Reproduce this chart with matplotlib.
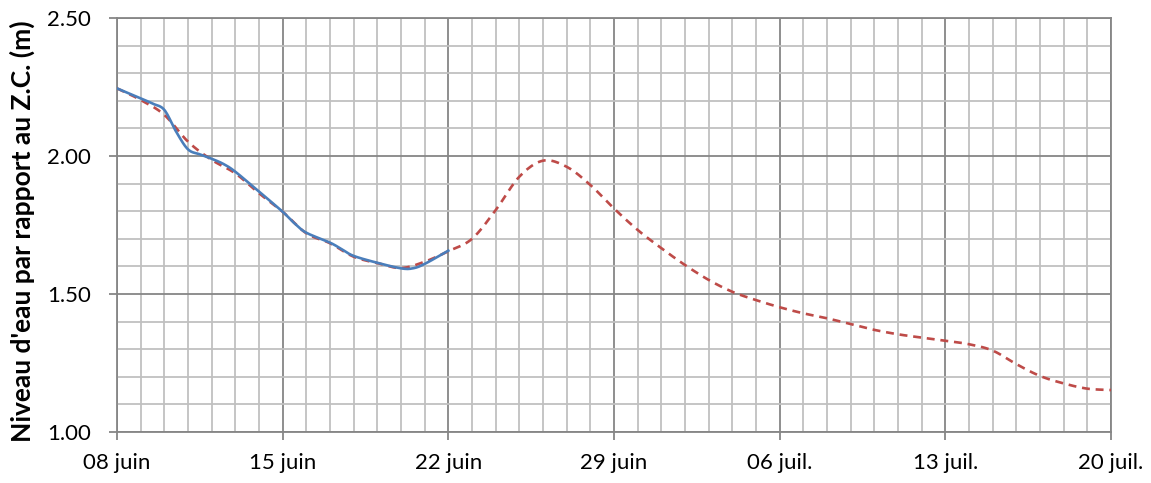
#!/usr/bin/env python3

import numpy as np
import matplotlib
matplotlib.use("Agg")
import matplotlib.pyplot as plt
import matplotlib.dates as mdates
from matplotlib.ticker import MultipleLocator, FormatStrFormatter

#################################################
### Data
#################################################

start_date = np.datetime64("2015-06-08")

# prevision (red dashed), one value per day from 08 juin to 20 juil.
prevision_days = np.arange(0, 43)
prevision_level = [2.245, 2.203, 2.149, 2.052, 1.986, 1.937, 1.865, 1.798, 1.720, 1.684,
                   1.635, 1.612, 1.594, 1.617, 1.655, 1.700, 1.804, 1.925, 1.983, 1.961,
                   1.895, 1.810, 1.732, 1.666, 1.605, 1.551, 1.508, 1.478, 1.452, 1.430,
                   1.412, 1.391, 1.370, 1.354, 1.342, 1.331, 1.318, 1.295, 1.246, 1.203,
                   1.176, 1.157, 1.152]

# observed (blue solid)
observed_days = [0, 1, 1.5, 2, 2.5, 3, 3.5, 4, 4.5, 5, 6, 7, 7.5, 8, 9, 9.5, 10, 11, 12, 12.5, 13, 14]
observed_level = [2.245, 2.209, 2.190, 2.167, 2.088, 2.024, 2.006, 1.990, 1.971, 1.943,
                  1.871, 1.798, 1.756, 1.722, 1.686, 1.662, 1.638, 1.613, 1.593, 1.593,
                  1.609, 1.657]

tick_days = [0, 7, 14, 21, 28, 35, 42]
tick_labels = ["08 juin", "15 juin", "22 juin", "29 juin", "06 juil.", "13 juil.", "20 juil."]

#################################################
### Functions Definitions
#################################################

def smooth(x, y, n=12):
    """Catmull-Rom curve through the points, like Excel's smoothed line."""
    x = np.asarray(x, float)
    y = np.asarray(y, float)
    px = np.concatenate(([2 * x[0] - x[1]], x, [2 * x[-1] - x[-2]]))
    py = np.concatenate(([2 * y[0] - y[1]], y, [2 * y[-1] - y[-2]]))
    xs, ys = [], []
    t = np.linspace(0, 1, n, endpoint=False)
    for i in range(1, len(px) - 2):
        for p, out in ((px, xs), (py, ys)):
            p0, p1, p2, p3 = p[i - 1], p[i], p[i + 1], p[i + 2]
            out.extend(0.5 * ((2 * p1) + (-p0 + p2) * t
                              + (2 * p0 - 5 * p1 + 4 * p2 - p3) * t ** 2
                              + (-p0 + 3 * p1 - 3 * p2 + p3) * t ** 3))
    xs.append(x[-1])
    ys.append(y[-1])
    return np.array(xs), np.array(ys)


def to_num(days):
    base = mdates.date2num(start_date.astype("datetime64[D]").astype(object))
    return base + np.asarray(days, float)

#################################################
### Plotting
#################################################

plt.rcParams['font.family'] = ['Lato', 'DejaVu Sans']

fig = plt.figure(figsize=(11.51, 4.83), dpi=100)
ax = fig.add_axes([117 / 1151, 1 - 432 / 483, (1111 - 117) / 1151, (432 - 18) / 483])

major_c = "#868686"
minor_c = "#c0c0c0"

xr, yr = smooth(prevision_days, prevision_level)
ax.plot(to_num(xr), yr, color="#be4b48", lw=1.9, dashes=(3, 2.2), zorder=3)

xb, yb = smooth(observed_days, observed_level)
ax.plot(to_num(xb), yb, color="#4a7ebb", lw=1.9, zorder=4)

ax.set_xlim(to_num(0), to_num(42))
ax.set_ylim(1.0, 2.5)

ax.set_xticks(to_num(tick_days))
ax.set_xticklabels(tick_labels)
ax.set_xticks(to_num(np.arange(0, 43)), minor=True)
ax.yaxis.set_major_locator(MultipleLocator(0.5))
ax.yaxis.set_minor_locator(MultipleLocator(0.1))
ax.yaxis.set_major_formatter(FormatStrFormatter("%.2f"))

ax.grid(True, which="major", color=major_c, lw=1.3, zorder=1)
ax.grid(True, which="minor", color=minor_c, lw=1.3, zorder=0)
ax.set_axisbelow(True)

for s in ax.spines.values():
    s.set_color(major_c)
    s.set_linewidth(1.3)

ax.tick_params(which="major", direction="out", length=6, width=1.3, color=major_c,
               labelsize=16, labelcolor="black")
ax.tick_params(which="minor", length=0)
ax.tick_params(axis="x", pad=9)
ax.tick_params(axis="y", pad=13)

fig.text(22 / 1151, 1 - 231 / 483, "Niveau d'eau par rapport au Z.C. (m)", rotation=90,
         ha="center", va="center", fontsize=19, fontweight="bold")

fig.savefig("out.png", dpi=100)
